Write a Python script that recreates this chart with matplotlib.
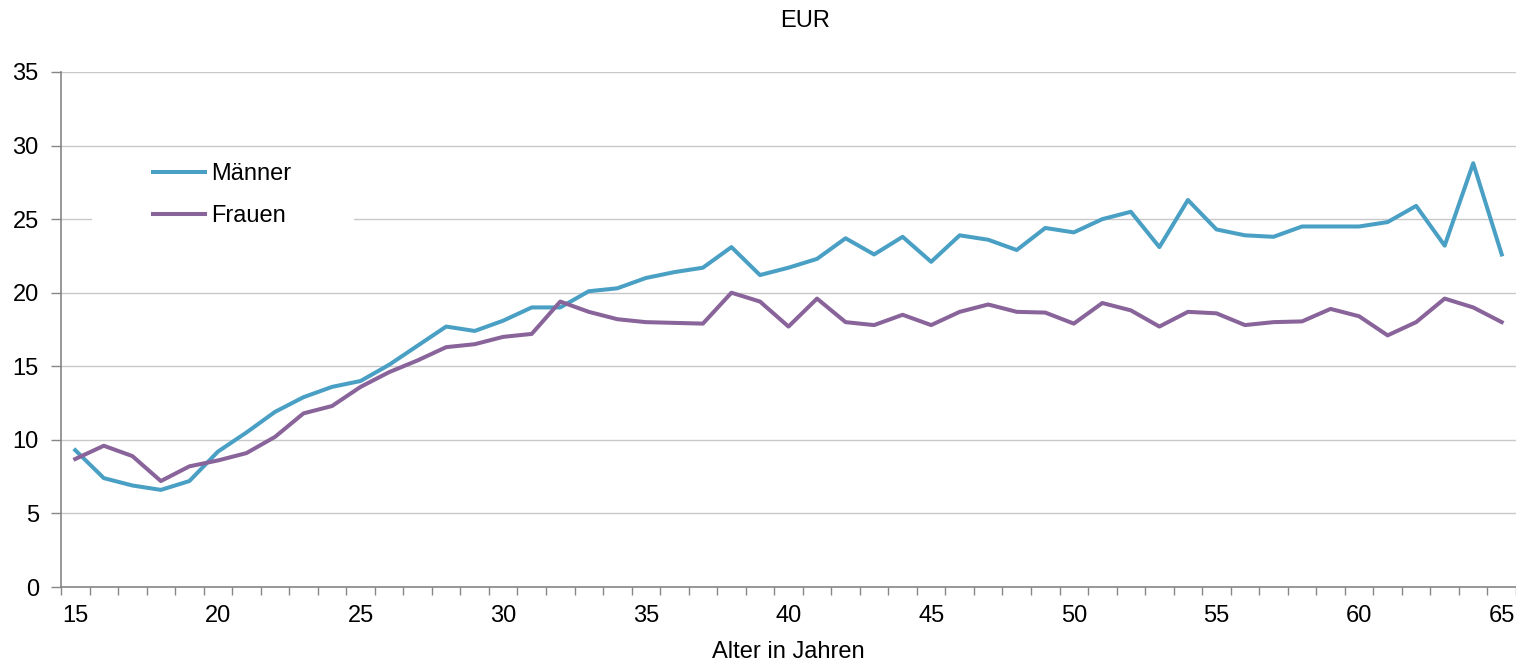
import numpy as np
import matplotlib
matplotlib.use('Agg')
import matplotlib.pyplot as plt
from matplotlib.patches import Rectangle

plt.rcParams['font.family'] = ['Liberation Sans', 'DejaVu Sans']

alter = list(range(15, 66))

maenner = [9.3, 7.4, 6.9, 6.6, 7.2, 9.2, 10.5, 11.9, 12.9, 13.6,
           14.0, 15.1, 16.4, 17.7, 17.4, 18.1, 19.0, 19.0, 20.1, 20.3,
           21.0, 21.4, 21.7, 23.1, 21.2, 21.7, 22.3, 23.7, 22.6, 23.8,
           22.1, 23.9, 23.6, 22.9, 24.4, 24.1, 25.0, 25.5, 23.1, 26.3,
           24.3, 23.9, 23.8, 24.5, 24.5, 24.5, 24.8, 25.9, 23.2, 28.8,
           22.6]

frauen = [8.7, 9.6, 8.9, 7.2, 8.2, 8.6, 9.1, 10.2, 11.8, 12.3,
          13.6, 14.6, 15.4, 16.3, 16.5, 17.0, 17.2, 19.4, 18.7, 18.2,
          18.0, 17.95, 17.9, 20.0, 19.4, 17.7, 19.6, 18.0, 17.8, 18.5,
          17.8, 18.7, 19.2, 18.7, 18.65, 17.9, 19.3, 18.8, 17.7, 18.7,
          18.6, 17.8, 18.0, 18.05, 18.9, 18.4, 17.1, 18.0, 19.6, 19.0,
          18.0]

x_labels = [15, 20, 25, 30, 35, 40, 45, 50, 55, 60, 65]

fs = 17
grid_col = '#c8c8c8'
axis_col = '#868686'

fig = plt.figure(figsize=(15.16, 6.61), dpi=100)
ax = fig.add_axes([61 / 1516, 1 - 587 / 661, 1455 / 1516, (587 - 72) / 661])

ax.plot(alter, maenner, color='#4AA0C4', linewidth=2.9, label='Männer', zorder=3)
ax.plot(alter, frauen, color='#89649A', linewidth=2.9, label='Frauen', zorder=3)

ax.set_xlim(alter[0] - 0.5, alter[-1] + 0.5)
ax.set_ylim(0, 35)
ax.set_yticks(np.arange(0, 36, 5))
ax.yaxis.grid(True, color=grid_col, linewidth=1.0)
ax.set_axisbelow(True)

ax.set_xticks(x_labels)
ax.set_xticklabels([str(v) for v in x_labels])
ax.set_xticks(np.arange(alter[0] - 0.5, alter[-1] + 1, 1), minor=True)
ax.tick_params(axis='x', which='major', length=0, pad=13, labelsize=fs)
ax.tick_params(axis='x', which='minor', length=6, width=1, color=axis_col)
ax.tick_params(axis='y', length=7, width=1, color=axis_col, pad=9, labelsize=fs)

for s in ['top', 'right']:
    ax.spines[s].set_visible(False)
for s in ['left', 'bottom']:
    ax.spines[s].set_color(axis_col)
    ax.spines[s].set_linewidth(1.2)

ax.set_xlabel('Alter in Jahren', fontsize=fs, labelpad=10)

# white area behind the legend (hides the gridline like in the original)
ax.add_patch(Rectangle((0.0213, 0.683), 0.18, 0.166, transform=ax.transAxes,
                       facecolor='white', edgecolor='none', zorder=1))
ax.legend(loc='center left', bbox_to_anchor=(0.0632, 0.761), frameon=False,
          fontsize=fs, handlelength=2.2, handletextpad=0.25, labelspacing=0.82,
          borderpad=0, borderaxespad=0)

fig.text(805 / 1516, 1 - 21 / 661, 'EUR', ha='center', va='center', fontsize=fs)

fig.savefig('out.png', dpi=100)
